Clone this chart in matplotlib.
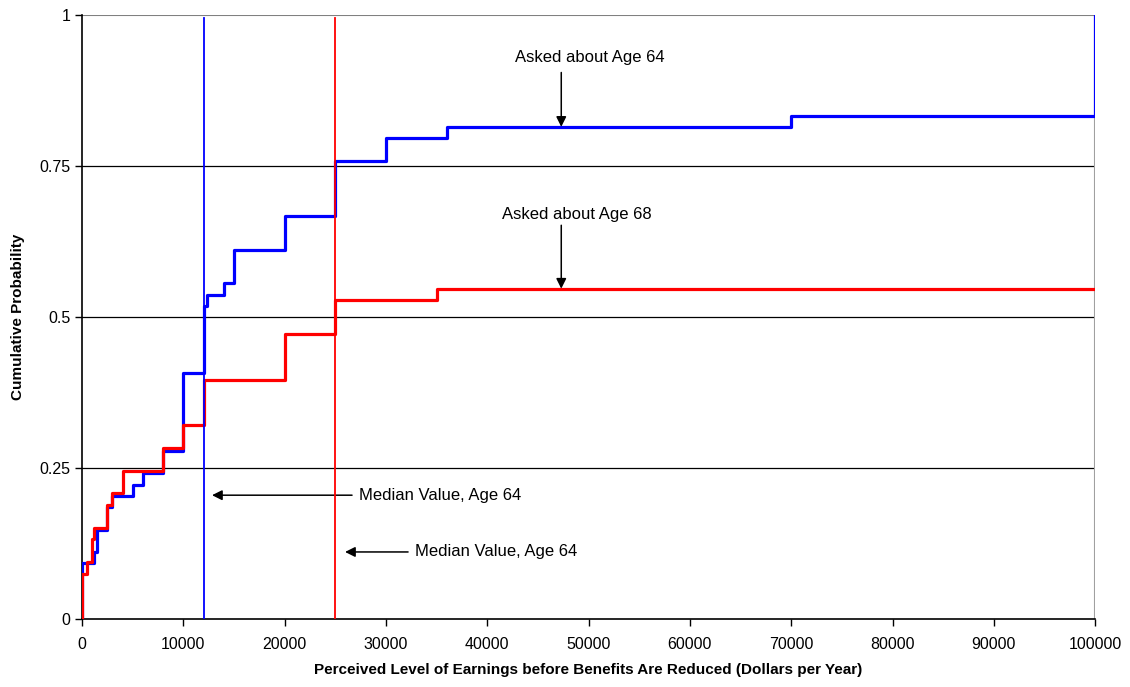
import matplotlib
matplotlib.use("Agg")
import matplotlib.pyplot as plt

plt.rcParams['font.family'] = ['Liberation Sans', 'DejaVu Sans']

# CDF of perceived earnings-test threshold, asked about age 64 (blue) and 68 (red)
earn_64 = [0, 0, 1200, 1500, 2500, 3000, 5000, 6000, 8000, 10000, 12000, 12300,
           14000, 15000, 20000, 25000, 30000, 36000, 70000, 100000, 100000]
prob_64 = [0, 0.093, 0.111, 0.148, 0.185, 0.204, 0.222, 0.241, 0.278, 0.407, 0.519, 0.537,
           0.556, 0.611, 0.667, 0.759, 0.796, 0.815, 0.833, 0.833, 1.0]

earn_68 = [0, 0, 500, 1000, 1200, 2500, 3000, 4000, 8000, 10000, 12000,
           20000, 25000, 35000, 100000]
prob_68 = [0, 0.075, 0.094, 0.132, 0.151, 0.189, 0.208, 0.245, 0.283, 0.321, 0.396,
           0.472, 0.528, 0.547, 0.547]

median_64 = 12000
median_68 = 25000

x_ticks = list(range(0, 100001, 10000))
y_ticks = [0, 0.25, 0.5, 0.75, 1]
y_tick_labels = ['0', '0.25', '0.5', '0.75', '1']

fig = plt.figure(figsize=(11.3, 6.87), dpi=100)
ax = fig.add_axes([0.0726, 0.099, 0.8966, 0.879])

for yv in [0.25, 0.5, 0.75]:
    ax.axhline(yv, color='black', lw=0.9, zorder=1)
ax.axhline(1, color='#808080', lw=1.5, zorder=1)
ax.axvline(100000, color='#a0a0a0', lw=1.5, zorder=1)

ax.step(earn_64, prob_64, where='post', color='#0000ff', lw=2.3, zorder=3)
ax.step(earn_68, prob_68, where='post', color='#ff0000', lw=2.3, zorder=3)

ax.plot([median_64, median_64], [0, 0.995], color='#0000ff', lw=1.3, zorder=4)
ax.plot([median_68, median_68], [0, 0.995], color='#ff0000', lw=1.3, zorder=4)

arrow = dict(arrowstyle='-|>', color='black', lw=1.1, mutation_scale=15, shrinkA=0, shrinkB=0)
ax.annotate('', xy=(47300, 0.815), xytext=(47300, 0.905), arrowprops=arrow)
ax.text(50150, 0.930, 'Asked about Age 64', ha='center', va='center', fontsize=12)
ax.annotate('', xy=(47300, 0.547), xytext=(47300, 0.652), arrowprops=arrow)
ax.text(48860, 0.669, 'Asked about Age 68', ha='center', va='center', fontsize=12)
ax.annotate('', xy=(12830, 0.205), xytext=(26650, 0.205), arrowprops=arrow)
ax.text(27340, 0.205, 'Median Value, Age 64', ha='left', va='center', fontsize=12)
ax.annotate('', xy=(25960, 0.111), xytext=(32180, 0.111), arrowprops=arrow)
ax.text(32870, 0.111, 'Median Value, Age 64', ha='left', va='center', fontsize=12)

ax.set_xlim(0, 100000)
ax.set_ylim(0, 1)
ax.set_xticks(x_ticks)
ax.set_xticklabels([str(v) for v in x_ticks])
ax.set_yticks(y_ticks)
ax.set_yticklabels(y_tick_labels)
ax.tick_params(direction='out', length=5, width=1, labelsize=11.5, colors='black')
ax.tick_params(axis='x', pad=8)

for side in ['top', 'right']:
    ax.spines[side].set_visible(False)
for side in ['left', 'bottom']:
    ax.spines[side].set_linewidth(1.2)
    ax.spines[side].set_color('black')

ax.set_xlabel('Perceived Level of Earnings before Benefits Are Reduced (Dollars per Year)',
              fontsize=11, fontweight='bold', labelpad=8)
ax.set_ylabel('Cumulative Probability', fontsize=11, fontweight='bold', labelpad=10)

fig.savefig('out.png', dpi=100)
